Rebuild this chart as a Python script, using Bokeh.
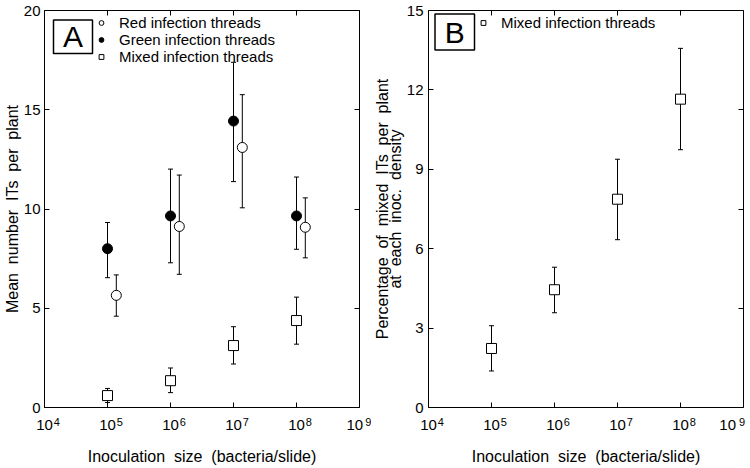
from bokeh.plotting import figure
from bokeh.models import (ColumnDataSource, Whisker, Range1d, LogAxis, LinearAxis,
                          FixedTicker, Legend, LegendItem, Label,
                          BoxAnnotation, TeeHead)
from bokeh.layouts import row
from bokeh.embed import file_html
from bokeh.resources import INLINE

# ---------------- data ----------------
inoc = [1e5, 1e6, 1e7, 1e8]

green_mean = [8.00, 9.65, 14.43, 9.65]
green_lo = [6.54, 7.29, 11.38, 7.97]
green_hi = [9.32, 12.01, 17.39, 11.61]

red_mean = [5.65, 9.12, 13.10, 9.08]
red_lo = [4.60, 6.71, 10.06, 7.54]
red_hi = [6.68, 11.71, 15.76, 10.56]

mixed_mean = [0.60, 1.35, 3.12, 4.38]
mixed_lo = [0.25, 0.75, 2.19, 3.19]
mixed_hi = [0.96, 1.99, 4.07, 5.56]

pct_mean = [2.23, 4.45, 7.87, 11.65]
pct_lo = [1.38, 3.58, 6.34, 9.74]
pct_hi = [3.09, 5.30, 9.38, 13.57]

x_ticks = [10**4, 10**5, 10**6, 10**7, 10**8, 10**9]
x_tick_base = ["10", "10", "10", "10", "10", "10"]
x_tick_exponents = ["4", "5", "6", "7", "8", "9"]
yA_ticks = [0, 5, 10, 15, 20]
yB_ticks = [0, 3, 6, 9, 12, 15]
yB_right_ticks = [5, 10, 15]

x_label = "Inoculation \u00a0size \u00a0(bacteria/slide)"
yA_label = "Mean \u00a0number \u00a0ITs \u00a0per \u00a0plant"
yB_label = "Percentage \u00a0of \u00a0mixed \u00a0ITs \u00a0per \u00a0plant\nat \u00a0each \u00a0inoc. \u00a0density"

RED_DODGE = 1.38  # horizontal offset of red points (log scale), style only
NB = "\u00a0"

FONT = "Liberation Sans"
H = 467
TOP = 10
BOTTOM = 60
FH = H - TOP - BOTTOM  # frame height


def style_axis(ax, ticks, labels=True):
    ax.major_tick_in = 5
    ax.major_tick_out = 0
    ax.minor_tick_line_color = None
    ax.axis_line_color = "black"
    ax.axis_line_width = 1
    ax.major_tick_line_color = "black"
    ax.major_label_text_font = FONT
    ax.major_label_text_color = "black"
    ax.axis_label_text_font = FONT
    ax.axis_label_text_font_style = "normal"
    ax.axis_label_text_color = "black"
    ax.axis_label_text_font_size = "16px"
    if labels:
        ax.major_label_text_font_size = "15px"
    else:
        ax.major_label_overrides = {t: "" for t in ticks}
        ax.major_label_text_font_size = "1px"
        ax.major_label_standoff = 0


def make_fig(ymax, yticks, width, min_left, min_right, ylabel, ystandoff,
             last_base_pad, last_exp_trailing):
    p = figure(x_axis_type="log", x_range=Range1d(1e4, 1e9), y_range=Range1d(0, ymax),
               width=width, height=H,
               min_border_left=min_left, min_border_right=min_right,
               min_border_top=TOP, min_border_bottom=BOTTOM,
               output_backend="svg", toolbar_location=None)
    p.xgrid.visible = False
    p.ygrid.visible = False
    p.outline_line_color = None
    p.background_fill_color = "white"
    p.border_fill_color = "white"

    # text padding so the decade labels read "10" + raised exponent;
    # the last one is pulled left to stay inside the plot
    base_txt = list(x_tick_base)
    base_txt[-1] = base_txt[-1] + NB * last_base_pad
    exp_txt = [NB * 8 + e for e in x_tick_exponents]
    if last_exp_trailing is not None:
        exp_txt[-1] = x_tick_exponents[-1] + NB * last_exp_trailing

    # inner bottom axis: ticks and the "10" of each decade label
    xb = p.xaxis[0]
    xb.ticker = FixedTicker(ticks=x_ticks)
    xb.major_label_overrides = dict(zip(x_ticks, base_txt))
    style_axis(xb, x_ticks)
    xb.major_label_standoff = 8

    # outer bottom axis: the exponents (pulled up beside "10") and the axis title
    xe = LogAxis(ticker=FixedTicker(ticks=x_ticks))
    style_axis(xe, x_ticks)
    xe.axis_line_color = None
    xe.major_tick_line_color = None
    xe.major_label_overrides = dict(zip(x_ticks, exp_txt))
    xe.major_label_text_font_size = "11px"
    xe.major_label_standoff = -20
    xe.axis_label = x_label
    xe.axis_label_standoff = 17
    p.add_layout(xe, "below")

    yl = p.yaxis[0]
    yl.ticker = FixedTicker(ticks=yticks)
    yl.axis_label = ylabel
    style_axis(yl, yticks)
    yl.major_label_standoff = ystandoff
    yl.axis_label_standoff = 0
    yl.axis_label_text_line_height = 0.8

    top = LogAxis(ticker=FixedTicker(ticks=x_ticks))
    style_axis(top, x_ticks, labels=False)
    p.add_layout(top, "above")
    return p


def add_whisker(p, src):
    w = Whisker(base="x", upper="hi", lower="lo", source=src,
                line_color="black", line_width=1,
                upper_head=TeeHead(size=5, line_color="black", line_width=1),
                lower_head=TeeHead(size=5, line_color="black", line_width=1))
    p.add_layout(w)


def legend(items, x, y):
    return Legend(items=items, location=(x, y), glyph_width=12, glyph_height=15,
                  label_height=15, label_standoff=12, spacing=0, padding=0, margin=0,
                  border_line_color=None, background_fill_alpha=0,
                  label_text_font=FONT, label_text_font_size="15px",
                  label_text_line_height=0.85, label_text_color="black")


def panel_tag(p, text, left, right, top, bottom):
    p.add_layout(BoxAnnotation(left=left, right=right, top=FH - top, bottom=FH - bottom,
                               left_units="screen", right_units="screen",
                               top_units="screen", bottom_units="screen",
                               fill_color="white", fill_alpha=1,
                               line_color="black", line_alpha=1, line_width=1.5))
    p.add_layout(Label(x=(left + right) / 2, y=FH - (top + bottom) / 2,
                       x_units="screen", y_units="screen", text=text,
                       text_font=FONT, text_font_size="30px", text_align="center",
                       text_baseline="middle", text_color="black"))


# ---------------- panel A ----------------
pA = make_fig(20, yA_ticks, 371, 43, 12, yA_label, 4, 2, None)
right_A = LinearAxis(ticker=FixedTicker(ticks=yA_ticks))
style_axis(right_A, yA_ticks, labels=False)
pA.add_layout(right_A, "right")

red_x = [v * RED_DODGE for v in inoc]
src_g = ColumnDataSource(dict(x=inoc, y=green_mean, lo=green_lo, hi=green_hi))
src_r = ColumnDataSource(dict(x=red_x, y=red_mean, lo=red_lo, hi=red_hi))
src_m = ColumnDataSource(dict(x=inoc, y=mixed_mean, lo=mixed_lo, hi=mixed_hi))

for s in (src_g, src_r, src_m):
    add_whisker(pA, s)

r_green = pA.scatter("x", "y", source=src_g, marker="circle", size=10,
                     fill_color="black", line_color="black", line_width=1)
r_red = pA.scatter("x", "y", source=src_r, marker="circle", size=10,
                   fill_color="white", line_color="black", line_width=1)
r_mixed = pA.scatter("x", "y", source=src_m, marker="square", size=10,
                     fill_color="white", line_color="black", line_width=1)

pA.add_layout(legend([LegendItem(label="Red infection threads", renderers=[r_red]),
                      LegendItem(label="Green infection threads", renderers=[r_green]),
                      LegendItem(label="Mixed infection threads", renderers=[r_mixed])],
                     51, FH - 55))
panel_tag(pA, "A", 9, 48, 9.5, 43)

# ---------------- panel B ----------------
pB = make_fig(15, yB_ticks, 377, 55, 5, yB_label, 5, 3, 1)
pB.yaxis[0].axis_label_text_line_height = 0.75
pB.extra_y_ranges = {"r4": Range1d(0, 20)}
right_B = LinearAxis(y_range_name="r4", ticker=FixedTicker(ticks=yB_right_ticks))
style_axis(right_B, yB_right_ticks, labels=False)
pB.add_layout(right_B, "right")

src_p = ColumnDataSource(dict(x=inoc, y=pct_mean, lo=pct_lo, hi=pct_hi))
add_whisker(pB, src_p)
r_pct = pB.scatter("x", "y", source=src_p, marker="square", size=10,
                   fill_color="white", line_color="black", line_width=1)

pB.add_layout(legend([LegendItem(label="Mixed infection threads", renderers=[r_pct])],
                     49, FH - 21))
panel_tag(pB, "B", 6.5, 46, 3.5, 39.5)

layout = row(pA, pB)
open("out.html", "w").write(file_html(layout, INLINE))
